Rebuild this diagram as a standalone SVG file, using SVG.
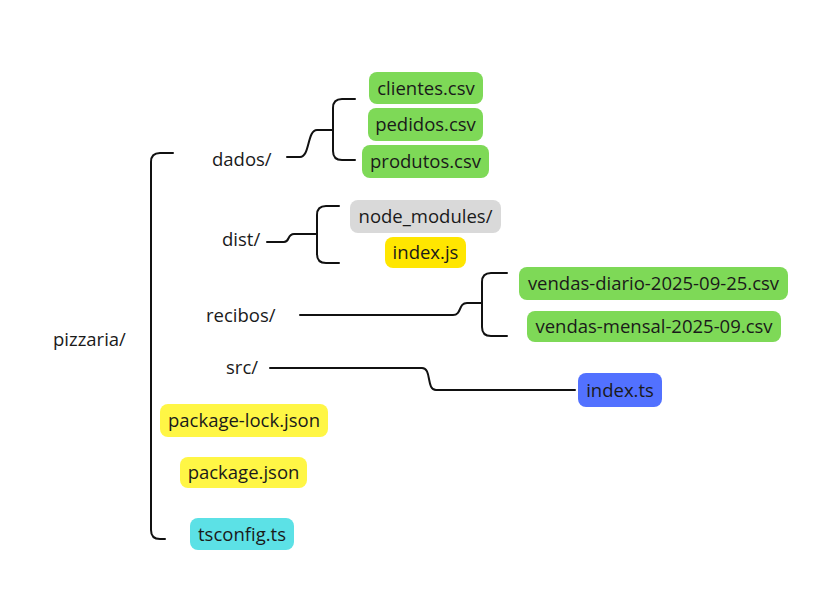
<svg xmlns="http://www.w3.org/2000/svg" width="817" height="609" viewBox="0 0 817 609">
<style>
.lbl{font-family:"Open Sans","Noto Sans",sans-serif;font-size:18.5px;fill:#1a1a1a}
.bt{font-family:"Open Sans","Noto Sans",sans-serif;font-size:18.5px;fill:#1a1a1a;text-anchor:middle}
.c{fill:none;stroke:#111;stroke-width:2;stroke-linecap:round;stroke-linejoin:round}
.green{fill:#7ed957}.gray{fill:#d9d9d9}.yel{fill:#ffe600}.ly{fill:#fff645}.blue{fill:#5271ff}.cyan{fill:#5ce1e6}
</style>
<rect width="817" height="609" fill="#ffffff"/>
<g id="connectors">
<path class="c" d="M173,153 H160 Q151,153 151,162 V530 Q151,539 160,539 H165"/>
<path class="c" d="M287,157 H300 C310,157 307,130 317,130 H333"/>
<path class="c" d="M355,99 H342 Q333,99 333,108 V151 Q333,160 342,160 H355"/>
<path class="c" d="M267,242 H284 C290,242 287,234 294,234 H317"/>
<path class="c" d="M339,206 H326 Q317,206 317,215 V254 Q317,263 326,263 H339"/>
<path class="c" d="M300,315 H453 C462,315 458,303 467,303 H482"/>
<path class="c" d="M507,273 H491 Q482,273 482,282 V327 Q482,336 491,336 H507"/>
<path class="c" d="M270,368 H422 C432,368 426,390 436,390 H575"/>
</g>
<g id="pizzaria"><text class="lbl" x="53" y="346">pizzaria/</text></g>
<g id="dados"><text class="lbl" x="212" y="166">dados/</text></g>
<g id="dist"><text class="lbl" x="222" y="246">dist/</text></g>
<g id="recibos"><text class="lbl" x="206" y="322">recibos/</text></g>
<g id="src"><text class="lbl" x="226" y="374">src/</text></g>
<g id="clientes"><rect class="green" x="369" y="72" width="114" height="32" rx="8"/><text class="bt" x="426" y="94.5">clientes.csv</text></g>
<g id="pedidos"><rect class="green" x="368" y="108" width="115" height="33" rx="8"/><text class="bt" x="425.5" y="131">pedidos.csv</text></g>
<g id="produtos"><rect class="green" x="362" y="145" width="127" height="33" rx="8"/><text class="bt" x="425.5" y="168">produtos.csv</text></g>
<g id="node_modules"><rect class="gray" x="350" y="200" width="151" height="33" rx="8"/><text class="bt" x="425.5" y="223">node_modules/</text></g>
<g id="index_js"><rect class="yel" x="385" y="237" width="81" height="31" rx="8"/><text class="bt" x="425.5" y="259">index.js</text></g>
<g id="vendas_diario"><rect class="green" x="519" y="267" width="269" height="33" rx="8"/><text class="bt" x="653.5" y="290">vendas-diario-2025-09-25.csv</text></g>
<g id="vendas_mensal"><rect class="green" x="527" y="311" width="254" height="31" rx="8"/><text class="bt" x="654" y="333">vendas-mensal-2025-09.csv</text></g>
<g id="index_ts"><rect class="blue" x="578" y="373" width="84" height="34" rx="8"/><text class="bt" x="620" y="396.5">index.ts</text></g>
<g id="package_lock"><rect class="ly" x="160" y="404" width="168" height="33" rx="8"/><text class="bt" x="244" y="427">package-lock.json</text></g>
<g id="package_json"><rect class="ly" x="180" y="457" width="127" height="31" rx="8"/><text class="bt" x="243.5" y="479">package.json</text></g>
<g id="tsconfig"><rect class="cyan" x="190" y="518" width="104" height="32" rx="8"/><text class="bt" x="242" y="540.5">tsconfig.ts</text></g>
</svg>
